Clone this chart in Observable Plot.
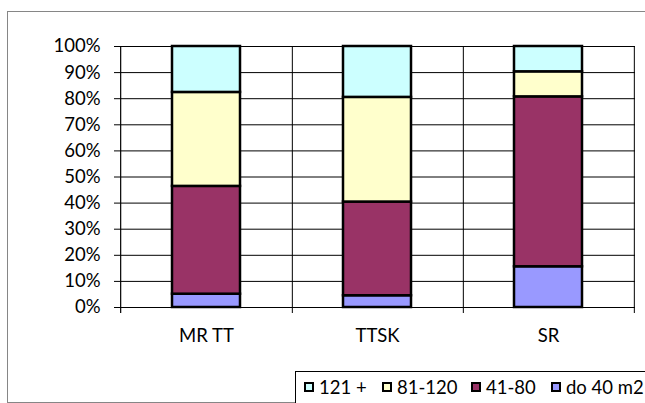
<!DOCTYPE html>
<html><head><meta charset="utf-8">
<script src="https://cdn.jsdelivr.net/npm/d3@7"></script>
<script src="https://cdn.jsdelivr.net/npm/@observablehq/plot@0.6"></script>
<style>
html,body{margin:0;padding:0;background:#fff;overflow:hidden;}
body{width:645px;height:403px;position:relative;font-family:Lato,"Open Sans",sans-serif;}
#frame{position:absolute;left:7px;top:10.5px;width:800px;height:392px;border:1.5px solid #868686;box-sizing:border-box;}
#chart{position:absolute;left:0;top:0;}
#legend{position:absolute;left:295px;top:371px;width:400px;height:40px;border-top:1.5px solid #000;border-left:1.5px solid #000;background:#fff;box-sizing:border-box;}
.item{position:absolute;top:0;height:30px;display:flex;align-items:center;font-size:18.5px;color:#000;white-space:nowrap;}
.sw{width:6px;height:6px;border:2px solid #000;margin-right:5px;flex:none;}
</style></head>
<body>
<div id="frame"></div>
<div id="chart"></div>
<div id="legend"></div>
<script>
const categories = ["MR TT", "TTSK", "SR"];
const series = ["do 40 m2", "41-80", "81-120", "121 +"];
const colors = ["#9999FF", "#993366", "#FFFFCC", "#CCFFFF"];
const do40 = [5.1, 4.5, 15.6];
const s41_80 = [41.3, 35.9, 65.1];
const s81_120 = [36.0, 40.1, 9.6];
const s121 = [17.6, 19.5, 9.7];
const yTicks = [0, 0.1, 0.2, 0.3, 0.4, 0.5, 0.6, 0.7, 0.8, 0.9, 1.0];
const legendOrder = ["121 +", "81-120", "41-80", "do 40 m2"];

const valuesBySeries = [do40, s41_80, s81_120, s121];
const rows = [];
series.forEach((s, si) => categories.forEach((c, ci) => rows.push({cat: c, series: s, value: valuesBySeries[si][ci]})));

const W = 645, H = 360, mL = 120, mR = 10;
const step = (W - mL - mR) / categories.length;

const chart = Plot.plot({
  width: W, height: H,
  marginLeft: mL, marginRight: mR, marginTop: 46, marginBottom: 53,
  style: {fontFamily: 'Lato, "Open Sans", sans-serif', fontSize: "18.5px", color: "#000", background: "transparent", overflow: "visible"},
  x: {domain: categories, paddingInner: 0.6, paddingOuter: 0.3, label: null},
  y: {domain: [0, 1], label: null},
  color: {domain: series, range: colors},
  marks: [
    Plot.ruleY(yTicks, {stroke: "#000", strokeWidth: 1}),
    Plot.ruleX(categories, {dx: step / 2, stroke: "#000", strokeWidth: 1, insetBottom: -6}),
    Plot.ruleX([categories[0]], {dx: -step / 2, stroke: "#000", strokeWidth: 1.2, insetBottom: -6}),
    Plot.barY(rows, {x: "cat", y: "value", fill: "series", order: series, offset: "normalize", stroke: "#000", strokeWidth: 2.5}),
    Plot.axisY({ticks: yTicks, tickFormat: d => Math.round(d * 100) + "%", tickSize: 6, tickPadding: 14, stroke: "#000"}),
    Plot.axisX({tickSize: 0, tickPadding: 21})
  ]
});
document.getElementById("chart").appendChild(chart);

const legendX = [303, 381, 470, 550];
const leg = document.getElementById("legend");
legendOrder.forEach((s, i) => {
  const it = document.createElement("div");
  it.className = "item";
  it.style.left = (legendX[i] - 295) + "px";
  const sw = document.createElement("div");
  sw.className = "sw";
  sw.style.background = colors[series.indexOf(s)];
  const tx = document.createElement("span");
  tx.textContent = s;
  it.appendChild(sw); it.appendChild(tx);
  leg.appendChild(it);
});
</script>
</body></html>
